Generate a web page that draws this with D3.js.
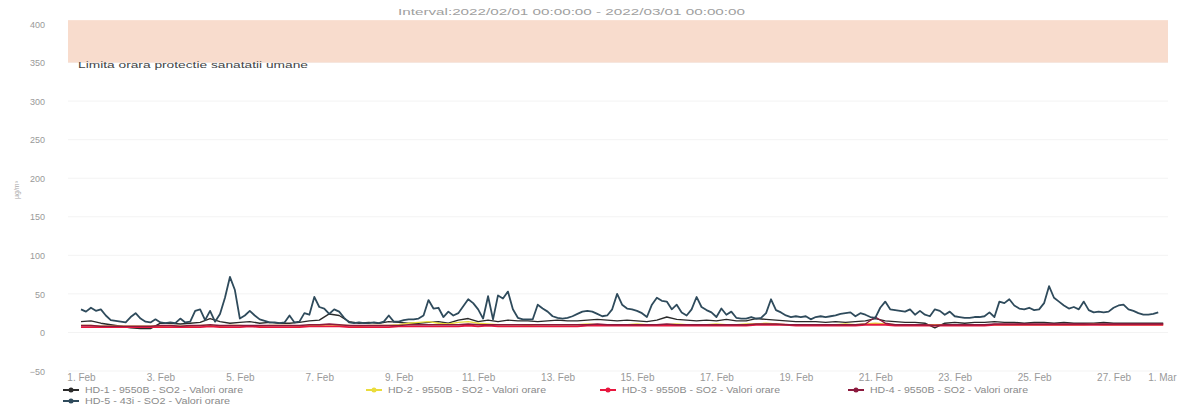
<!DOCTYPE html>
<html>
<head>
<meta charset="utf-8">
<script src="https://cdn.jsdelivr.net/npm/d3@7"></script>
<style>
  body { margin: 0; background: #fff; }
  text { font-family: Arial, 'Liberation Sans', sans-serif; }
</style>
</head>
<body>
<div id="chart-container"></div>
<script>
// SO2 valori orare, februarie 2022
const seriesNames = [
  'HD-1 - 9550B - SO2 - Valori orare',
  'HD-2 - 9550B - SO2 - Valori orare',
  'HD-3 - 9550B - SO2 - Valori orare',
  'HD-4 - 9550B - SO2 - Valori orare',
  'HD-5 - 43i - SO2 - Valori orare'
];
const seriesColors = ['#2b2b2b', '#eadc3c', '#e8173f', '#8c1a3e', '#2f4b5c'];

// every 6 hours from 1 Feb 00:00
const hd1 = [14, 15, 12, 10, 8, 6, 5, 5, 12, 12, 11, 12, 13, 18, 14, 12,
  13, 14, 12, 13, 12, 12, 13, 15, 16, 24, 22, 14, 12, 13, 12,
  14, 13, 12, 12, 13, 14, 12, 16, 18, 14, 16, 14, 16, 15, 15, 14,
  15, 16, 15, 15, 16, 17, 16, 15, 16, 15, 14, 16, 20, 17, 16, 15,
  16, 15, 17, 15, 15, 18, 17, 16, 15, 14, 14, 14, 13, 14, 13,
  14, 15, 18, 15, 14, 13, 13, 12, 6, 12, 13, 12, 13, 13, 14, 13,
  13, 12, 13, 13, 12, 13, 12, 12, 12, 13, 12, 12, 12, 12, 12, 12];
const hd2 = [9, 9, 8, 8, 8, 8, 8, 8, 8, 9, 8, 8, 9, 9, 8, 9,
  9, 8, 8, 9, 9, 9, 8, 9, 9, 10, 9, 9, 8, 9, 9,
  9, 10, 12, 13, 14, 12, 11, 13, 14, 12, 11, 10, 10, 10, 9, 10,
  10, 10, 10, 10, 11, 10, 10, 10, 10, 11, 10, 10, 10, 11, 10, 10,
  10, 11, 10, 10, 11, 11, 12, 11, 10, 10, 10, 10, 10, 10, 11,
  10, 11, 12, 11, 10, 10, 10, 10, 10, 10, 10, 10, 10, 10, 10, 10,
  10, 10, 10, 10, 10, 10, 10, 10, 11, 10, 10, 10, 10, 10, 10, 10];
const hd3 = [7, 7, 7, 7, 7, 7, 7, 7, 7, 7, 7, 7, 7, 8, 7, 7,
  7, 8, 7, 7, 7, 7, 7, 8, 8, 8, 8, 7, 7, 7, 7,
  7, 8, 8, 8, 8, 8, 8, 8, 9, 8, 9, 8, 8, 8, 8, 8,
  8, 8, 8, 8, 9, 9, 9, 9, 9, 9, 9, 9, 9, 9, 9, 9,
  9, 9, 9, 9, 9, 10, 10, 10, 10, 9, 9, 9, 9, 9, 9,
  9, 10, 10, 10, 9, 9, 9, 9, 9, 9, 9, 9, 9, 9, 10, 10,
  10, 10, 10, 10, 10, 10, 10, 10, 10, 10, 10, 10, 10, 10, 10, 10];
const hd4 = [9, 9, 8, 8, 8, 8, 8, 8, 9, 9, 8, 9, 9, 10, 9, 9,
  9, 9, 9, 9, 9, 9, 9, 10, 10, 11, 10, 9, 9, 9, 9,
  9, 9, 10, 10, 10, 10, 10, 10, 11, 10, 10, 10, 10, 10, 10, 10,
  10, 10, 10, 10, 10, 11, 10, 10, 10, 10, 10, 10, 11, 10, 10, 10,
  10, 10, 10, 10, 10, 11, 11, 11, 10, 10, 10, 10, 10, 10, 10,
  10, 11, 20, 12, 10, 10, 10, 10, 9, 10, 10, 10, 10, 10, 11, 11,
  11, 11, 11, 11, 11, 11, 11, 11, 11, 11, 11, 11, 11, 11, 11, 11];
// every 3 hours from 1 Feb 00:00
const hd5 = [30, 27, 32, 28, 30, 22, 16, 15, 14, 13, 20, 25, 18, 14, 13, 17,
  13, 12, 13, 12, 18, 13, 14, 28, 30, 16, 28, 14, 24, 45, 72,
  55, 18, 22, 28, 22, 17, 15, 13, 13, 12, 13, 22, 13, 14, 25, 23,
  46, 33, 31, 24, 30, 27, 19, 13, 12, 13, 12, 12, 13, 12, 14,
  22, 14, 14, 16, 17, 17, 18, 22, 42, 31, 32, 20, 27, 22, 25, 34,
  43, 38, 30, 18, 47, 17, 48, 44, 53, 30, 19, 17, 17, 17, 36, 31,
  27, 21, 19, 18, 19, 21, 24, 27, 28, 27, 24, 21, 22, 30, 50,
  36, 31, 30, 28, 25, 20, 36, 45, 41, 40, 30, 36, 26, 22, 30, 46,
  33, 29, 26, 20, 31, 23, 27, 19, 18, 18, 20, 18, 19, 25, 43,
  29, 26, 22, 20, 21, 20, 21, 17, 20, 21, 20, 21, 22, 24, 25, 26,
  21, 25, 23, 20, 19, 32, 40, 30, 29, 28, 27, 30, 23, 28, 23, 21,
  30, 28, 23, 27, 21, 20, 19, 19, 20, 20, 21, 26, 20, 40, 38,
  43, 35, 31, 30, 32, 29, 30, 38, 60, 45, 40, 35, 31, 33, 30, 40,
  29, 26, 27, 26, 27, 32, 35, 36, 30, 28, 25, 23, 23, 24, 26];

const yTicks = [-50, 0, 50, 100, 150, 200, 250, 300, 350, 400];
const xTickDays = [1, 3, 5, 7, 9, 11, 13, 15, 17, 19, 21, 23, 25, 27];
const limitBand = [350, 405];
const limitLabel = 'Limita orara protectie sanatatii umane';
const titleText = 'Interval:2022/02/01 00:00:00 - 2022/03/01 00:00:00';

const svgWidth = 1182;
const svgHeight = 409;

const svg = d3
  .select('#chart-container')
  .append('svg')
  .attr('width', svgWidth)
  .attr('height', svgHeight);

const start = new Date(2022, 1, 1);
const end = new Date(2022, 2, 1);
const xScale = d3.scaleTime().domain([start, end]).range([81, 1193]);
const yScale = d3.scaleLinear().domain([-50, 400]).range([371, 24]);

const xTicks = xTickDays.map((d) => new Date(2022, 1, d)).concat([end]);

// title (scan is stretched sideways)
svg
  .append('text')
  .attr('x', 398)
  .attr('y', 15)
  .attr('fill', '#a0a0a0')
  .attr('font-size', '9px')
  .attr('textLength', 347)
  .attr('lengthAdjust', 'spacingAndGlyphs')
  .text(titleText);

// faint grid
svg
  .append('g')
  .selectAll('line')
  .data(yTicks)
  .enter()
  .append('line')
  .attr('x1', 68)
  .attr('x2', 1168)
  .attr('y1', (d) => yScale(d))
  .attr('y2', (d) => yScale(d))
  .attr('stroke', '#f3f3f3');

// limit band
svg
  .append('rect')
  .attr('x', 68)
  .attr('width', 1100)
  .attr('y', yScale(limitBand[1]))
  .attr('height', yScale(limitBand[0]) - yScale(limitBand[1]))
  .attr('fill', '#f8dccd');
svg
  .append('text')
  .attr('x', 78)
  .attr('y', yScale(limitBand[0]) + 5)
  .attr('fill', '#444')
  .attr('font-size', '9px')
  .attr('textLength', 230)
  .attr('lengthAdjust', 'spacingAndGlyphs')
  .text(limitLabel);

// y axis
const yAxis = d3.axisLeft(yScale).tickValues(yTicks).tickSize(0).tickPadding(0);
svg
  .append('g')
  .attr('transform', 'translate(45,0)')
  .call(yAxis)
  .call((g) => g.select('.domain').remove())
  .selectAll('text')
  .attr('fill', '#999')
  .style('font-size', '9px')
  .attr('dy', '0.35em');

svg
  .append('text')
  .attr('transform', 'translate(19,190) rotate(-90)')
  .attr('text-anchor', 'middle')
  .attr('fill', '#aaa')
  .attr('font-size', '7px')
  .text('µg/m³');

// x axis
const xAxis = d3
  .axisBottom(xScale)
  .tickValues(xTicks)
  .tickSize(0)
  .tickPadding(0)
  .tickFormat(d3.timeFormat('%-d. %b'));
svg
  .append('g')
  .attr('transform', 'translate(0,373)')
  .call(xAxis)
  .call((g) => g.select('.domain').remove())
  .selectAll('text')
  .attr('fill', '#999')
  .style('font-size', '10px')
  .attr('dy', '0.8em')
  .each(function () {
    // keep the last label inside the chart, like the original
    const box = this.getBBox();
    const tx = xScale(d3.select(this.parentNode).datum());
    if (tx + box.width / 2 > 1176) {
      d3.select(this).attr('text-anchor', 'end').attr('x', 1176 - tx);
    }
  });

// lines
const allSeries = [
  { data: hd1, step: 6 },
  { data: hd2, step: 6 },
  { data: hd3, step: 6 },
  { data: hd4, step: 6 },
  { data: hd5, step: 3 }
];
const line = d3
  .line()
  .x((d) => xScale(d.t))
  .y((d) => yScale(d.v));

allSeries.forEach(function (s, k) {
  const pts = s.data.map((v, i) => ({ t: d3.timeHour.offset(start, i * s.step), v: v }));
  svg
    .append('path')
    .datum(pts)
    .attr('d', line)
    .attr('fill', 'none')
    .attr('stroke', seriesColors[k])
    .attr('stroke-width', k === 4 || k === 2 ? 1.8 : 1.4)
    .attr('stroke-linejoin', 'round');
});

// legend
const legendPos = [
  [63, 390], [366, 390], [600, 390], [848, 390], [63, 401]
];
const legend = svg
  .selectAll('.legend')
  .data(seriesNames)
  .enter()
  .append('g')
  .attr('class', 'legend')
  .attr('transform', (d, i) => 'translate(' + legendPos[i][0] + ',' + legendPos[i][1] + ')');
legend
  .append('line')
  .attr('x1', 0)
  .attr('x2', 16)
  .attr('stroke', (d, i) => seriesColors[i])
  .attr('stroke-width', 2);
legend
  .append('circle')
  .attr('cx', 8)
  .attr('r', 2.5)
  .attr('fill', (d, i) => seriesColors[i]);
legend
  .append('text')
  .attr('x', 22)
  .attr('dy', '0.35em')
  .attr('fill', '#8a8a8a')
  .attr('font-size', '9px')
  .attr('textLength', (d, i) => (i === 4 ? 145 : 158))
  .attr('lengthAdjust', 'spacingAndGlyphs')
  .text((d) => d);
</script>
</body>
</html>
